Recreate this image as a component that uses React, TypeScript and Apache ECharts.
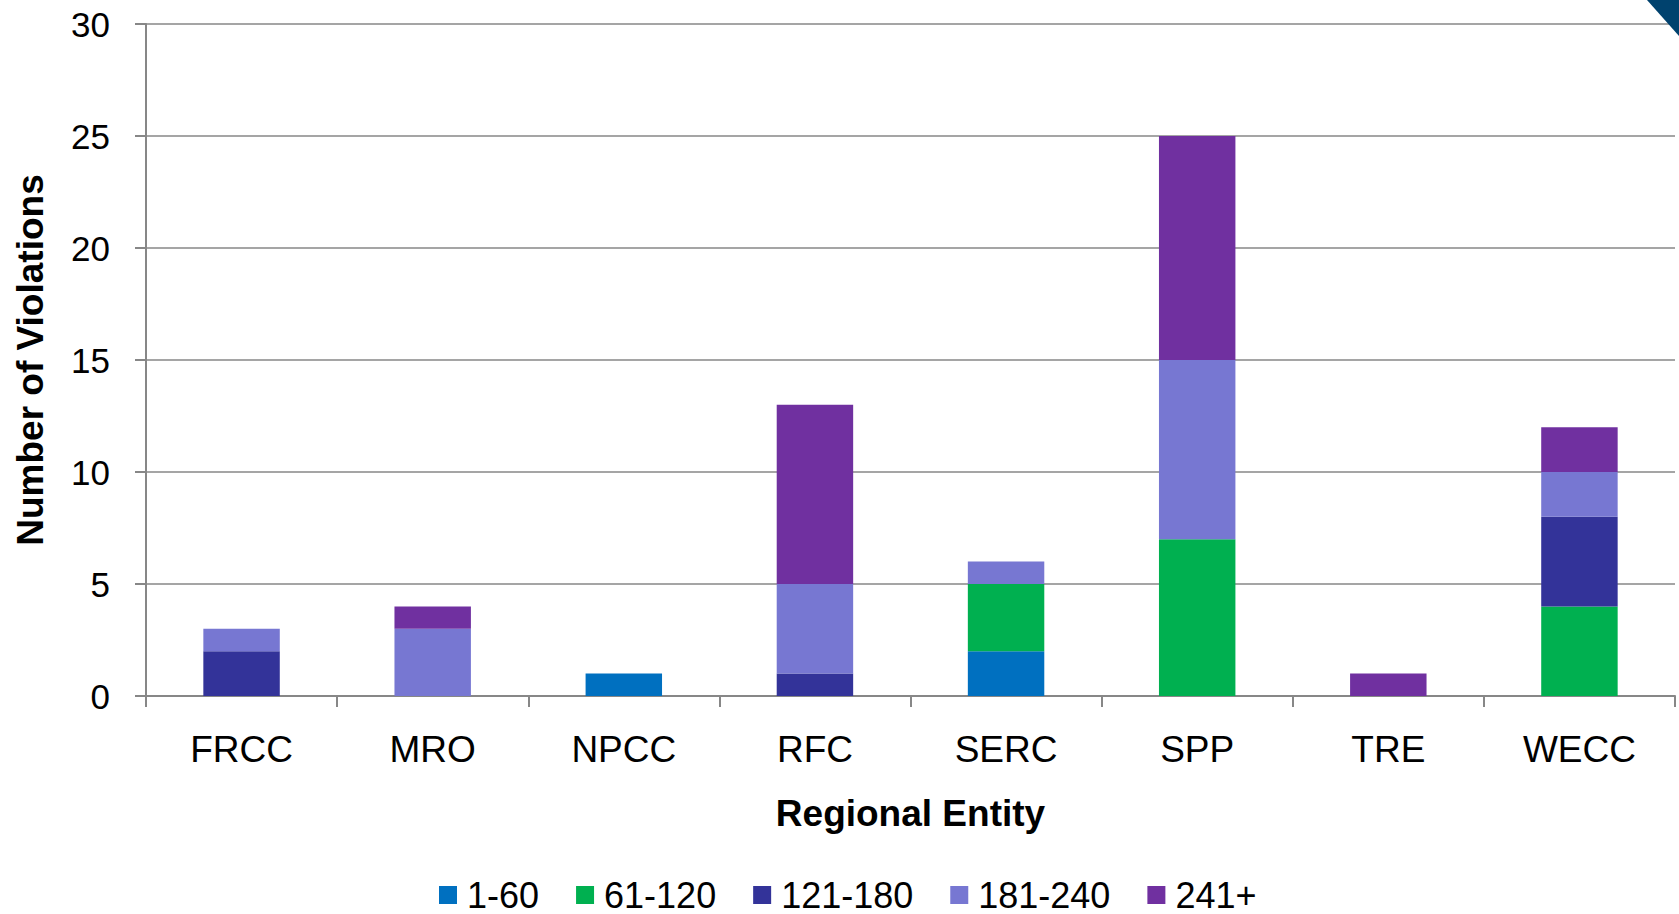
import React, { useEffect, useRef } from "react";
import * as echarts from "echarts";

const categories = ["FRCC", "MRO", "NPCC", "RFC", "SERC", "SPP", "TRE", "WECC"];
const seriesNames = ["1-60", "61-120", "121-180", "181-240", "241+"];
const colors = ["#0070C0", "#00B050", "#333399", "#7777D2", "#7030A0"];
const d1_60 = [0, 0, 1, 0, 2, 0, 0, 0];
const d61_120 = [0, 0, 0, 0, 3, 7, 0, 4];
const d121_180 = [2, 0, 0, 1, 0, 0, 0, 4];
const d181_240 = [1, 3, 0, 4, 1, 8, 0, 2];
const d241 = [0, 1, 0, 8, 0, 10, 1, 2];
const seriesData = [d1_60, d61_120, d121_180, d181_240, d241];
const yTicks = { min: 0, max: 30, interval: 5 };

const FONT = "'Liberation Sans', Arial, Helvetica, sans-serif";

export default function App() {
  const ref = useRef<HTMLDivElement>(null);
  useEffect(() => {
    if (!ref.current) return;
    const chart = echarts.init(ref.current, null, { renderer: "svg" });
    const option: any = {
      animation: false,
      backgroundColor: "#ffffff",
      textStyle: { fontFamily: FONT, color: "#000" },
      grid: { left: 146, right: 4, top: 24, bottom: 218, containLabel: false },
      legend: {
        data: seriesNames,
        left: 434,
        top: 872,
        icon: "rect",
        itemWidth: 18,
        itemHeight: 18,
        itemGap: 37,
        textStyle: { fontSize: 36, lineHeight: 36, color: "#000", fontFamily: FONT, padding: [0, 0, 0, 5] },
      },
      xAxis: {
        type: "category",
        data: categories,
        name: "Regional Entity",
        nameLocation: "middle",
        nameGap: 99,
        nameTextStyle: { fontSize: 37, fontWeight: "bold", color: "#000", fontFamily: FONT },
        axisLine: { show: true, lineStyle: { color: "#878787", width: 2 } },
        axisTick: { show: true, length: 11, lineStyle: { color: "#878787", width: 2 } },
        axisLabel: { fontSize: 37, color: "#000", margin: 35, fontFamily: FONT },
      },
      yAxis: {
        type: "value",
        min: yTicks.min,
        max: yTicks.max,
        interval: yTicks.interval,
        name: "Number of Violations",
        nameLocation: "middle",
        nameGap: 97,
        nameRotate: 90,
        nameTextStyle: { fontSize: 37, fontWeight: "bold", color: "#000", fontFamily: FONT },
        axisLine: { show: true, lineStyle: { color: "#878787", width: 2 } },
        axisTick: { show: true, length: 11, lineStyle: { color: "#878787", width: 2 } },
        axisLabel: { fontSize: 35, color: "#000", margin: 36, fontFamily: FONT },
        splitLine: { show: true, lineStyle: { color: "#878787", width: 1.5 } },
      },
      series: seriesNames.map((name, i) => ({
        name,
        type: "bar",
        stack: "total",
        data: seriesData[i],
        barCategoryGap: "60%",
        itemStyle: { color: colors[i] },
      })),
      graphic: [
        {
          type: "polygon",
          shape: { points: [[1647, 0], [1679, 0], [1679, 36]] },
          style: { fill: "#00426E" },
          z: 100,
        },
      ],
    };
    chart.setOption(option);
    return () => chart.dispose();
  }, []);
  return (
    <div
      ref={ref}
      style={{ position: "fixed", left: 0, top: 0, width: 1679, height: 914 }}
    />
  );
}
